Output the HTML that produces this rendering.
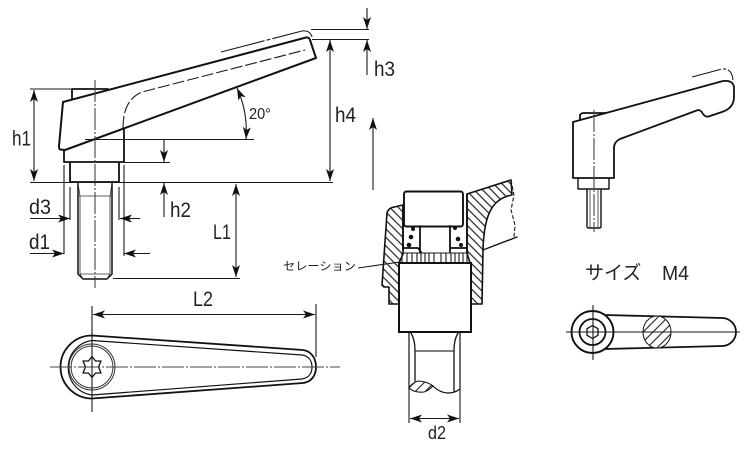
<!DOCTYPE html>
<html><head><meta charset="utf-8"><style>
html,body{margin:0;padding:0;background:#fff;width:750px;height:450px;overflow:hidden}
svg{display:block}
text{font-family:"Liberation Sans","Noto Sans CJK JP",sans-serif;fill:#222}
.o{fill:none;stroke:#111;stroke-width:1.8;stroke-linejoin:round;stroke-linecap:round}
.m{fill:none;stroke:#1a1a1a;stroke-width:1.1}
.t{fill:none;stroke:#333;stroke-width:.8}
.c{fill:none;stroke:#444;stroke-width:1.1;stroke-dasharray:22 2 2 2}
</style></head><body>
<svg width="750" height="450" viewBox="0 0 750 450" xmlns="http://www.w3.org/2000/svg">
<defs>
<pattern id="h" width="6" height="6" patternUnits="userSpaceOnUse" patternTransform="rotate(45)"><rect width="6" height="6" fill="#fff"/><line x1="0" y1="3" x2="6" y2="3" stroke="#222" stroke-width="1.200"/></pattern>
<pattern id="h2" width="7" height="7" patternUnits="userSpaceOnUse" patternTransform="rotate(-45)"><rect width="7" height="7" fill="#fff"/><line x1="0" y1="3.500" x2="7" y2="3.500" stroke="#222" stroke-width="1.100"/></pattern>
<marker id="a" viewBox="0 0 12 8" refX="12" refY="4" markerWidth="12" markerHeight="8" markerUnits="userSpaceOnUse" orient="auto-start-reverse"><path d="M0 0L12 4L0 8L3 4Z" fill="#111"/></marker>
</defs>

<!-- side view -->
<path class="o" d="M72 100V89H108"/>
<path class="o" d="M64 150V162H124V128"/>
<path class="o" d="M70 163V182H119V163"/>
<path class="o" d="M78 183V274L83 279H107L112 274V183" style="stroke-width:1.5"/>
<path class="t" d="M78 196H112M78 183L80 196M112 183L110 196M80 274L83 279M110 274L107 279M80 274H110M80 196V274M110 196V274"/>
<path class="o" style="fill:#fff;stroke-width:2" d="M63 102L306 37.500Q309 37 310 40L316 58L65 150L60 149.500Q59 149 59 146Z"/>
<path class="m" stroke-dasharray="12 3" d="M123 128C123 108 130 97 142 92L305 50"/>
<path class="m" stroke-dasharray="45 2 4 2" d="M221 52L302 31Q310 30 312 37"/>
<path class="c" d="M95 80V288"/>
<!-- dims -->
<path class="m" d="M30 89H72M30 182.500H333M85 139.500H254M124 162.500H170M113 278.500H240M312 39.500H369M311 29.500H369"/>
<path class="m" marker-start="url(#a)" marker-end="url(#a)" d="M34 90V181"/>
<path class="m" marker-start="url(#a)" marker-end="url(#a)" d="M330 40V181"/>
<path class="m" marker-start="url(#a)" marker-end="url(#a)" d="M236 184V277"/>
<path class="m" marker-end="url(#a)" d="M164 139V162"/>
<path class="m" marker-end="url(#a)" d="M164 217V183"/>
<path class="m" marker-end="url(#a)" d="M367 8V29"/>
<path class="m" marker-end="url(#a)" d="M367 75V40"/>
<path class="m" marker-start="url(#a)" marker-end="url(#a)" d="M237 88Q248 112 246 139"/>
<path class="m" marker-end="url(#a)" d="M373 190V118"/>
<path class="m" d="M64 165V254M70 187V220M119 187V220M124 165V256"/>
<path class="m" marker-end="url(#a)" d="M30 218.500H70"/>
<path class="m" marker-end="url(#a)" d="M140 218.500H120"/>
<path class="m" marker-end="url(#a)" d="M30 253.500H64"/>
<path class="m" marker-end="url(#a)" d="M150 253.500H124"/>
<g font-size="21.500">
<text x="12" y="145.500" textLength="19" lengthAdjust="spacingAndGlyphs">h1</text>
<text x="29" y="214" textLength="22" lengthAdjust="spacingAndGlyphs">d3</text>
<text x="29" y="249" textLength="21" lengthAdjust="spacingAndGlyphs">d1</text>
<text x="170" y="217" textLength="21" lengthAdjust="spacingAndGlyphs">h2</text>
<text x="213" y="239" textLength="18" lengthAdjust="spacingAndGlyphs">L1</text>
<text x="335" y="122" textLength="21" lengthAdjust="spacingAndGlyphs">h4</text>
<text x="374" y="76" textLength="21" lengthAdjust="spacingAndGlyphs">h3</text>
<text x="193" y="306" textLength="20" lengthAdjust="spacingAndGlyphs">L2</text>
<text x="428" y="439" font-size="18.500" textLength="18" lengthAdjust="spacingAndGlyphs">d2</text>
</g>
<text x="249" y="119" font-size="16" textLength="22" lengthAdjust="spacingAndGlyphs">20°</text>

<!-- bottom-left plan -->
<path class="o" d="M92 335.500L303 350C311 351 316 358 316 367C316 376 311 382 303 383L92 398.500A31.500 31.500 0 0 1 92 335.500Z"/>
<path class="o" style="stroke-width:1.2" d="M92 340.500L302 355C308 356 312 360 312 367C312 374 308 378 302 379L92 395A27.500 27.500 0 0 1 92 340.500Z"/>
<circle cx="92" cy="367" r="23" class="t" style="stroke-width:1"/>
<circle cx="92" cy="367" r="21" class="t" style="stroke-width:1"/>
<path class="o" style="stroke-width:1.3" d="M92 356.500L95.500 361L101 361L98.500 367L101 373L95.500 373L92 377.500L88.500 373L83 373L85.500 367L83 361L88.500 361Z"/>
<path class="c" d="M50 367H340"/>
<path class="m" d="M92 306V412M316 304V357"/>
<path class="m" marker-start="url(#a)" marker-end="url(#a)" d="M93 314.500H315"/>

<!-- section -->
<path d="M403 205L392 207.500Q388 209 387 213L382 285L384 287L389 287L389 304L399 304L399 263L403 254Z" fill="url(#h)" stroke="#111" stroke-width="1.6" stroke-linejoin="round"/>
<path d="M467 194L511 180L512 195C495 198 484 210 483 250L482 304L470 304L470 263L467 253Z" fill="url(#h)" stroke="#111" stroke-width="1.6" stroke-linejoin="round"/>
<path class="o" style="stroke-width:1.4" d="M483 250L517 237"/>
<path class="m" stroke-dasharray="4 2" d="M511 180L514 195L511 210L515 225L514 237"/>
<rect x="404" y="191.500" width="59" height="35" rx="2.500" fill="#fff" stroke="#111" stroke-width="1.9"/>
<path class="o" d="M403 205V250M467 194V253M420 226V252M450 226V252M403 248H418L421 252M450 248H467"/>
<g fill="#111"><circle cx="413" cy="229" r="2"/><circle cx="411" cy="237" r="2.300"/><circle cx="409" cy="245" r="2.300"/><circle cx="455" cy="228" r="2"/><circle cx="458" cy="239" r="2.300"/><circle cx="461" cy="245" r="2"/></g>
<path class="m" stroke-width=".9" d="M401 253H469M402 253V263M407 253V263M412 253V263M417 253V263M421 253V263M425 253V263M429 253V263M434 253V263M441 253V263M446 253V263M451 253V263M455 253V263M459 253V263M463 253V263M467 253V263"/>
<rect x="399" y="263" width="72" height="69" fill="#fff" stroke="#111" stroke-width="2"/>
<path class="o" style="stroke-width:1.3" d="M411 333Q415 340 415 350V381M458 333Q454 340 454 350V391"/>
<path class="t" style="stroke-width:1.2" d="M415 351H454"/>
<path class="o" style="stroke-width:1.2" d="M409 333V389M460 333V389"/>
<path d="M409 388Q412 383 418 381Q426 381 433 386Q428 391 424 392Q414 393 409 388Z" fill="url(#h2)" stroke="#111" stroke-width="1.100"/>
<path class="o" style="stroke-width:1.2" d="M433 386Q440 393 448 393Q455 393 460 389"/>
<path class="m" d="M409 389V423M460 389V423M358 268L400 262"/>
<path class="m" marker-start="url(#a)" marker-end="url(#a)" d="M410 418.500H459"/>
<text x="283" y="270" font-size="11.500" textLength="73" lengthAdjust="spacingAndGlyphs">セレーション</text>

<!-- small side view -->
<path class="o" d="M580 120V116Q580 113 584 113H606"/>
<path class="o" d="M573 122V178H614V148Q614 142 620 139L698 110Q701 110 703 114Q706 118 710 116L722 112Q734 108 734 97V87Q733 80 723 81Z"/>
<path class="o" style="stroke-width:1.4" d="M578 179V189H609V179"/>
<path class="o" style="stroke-width:1.4" d="M587 190V227L588 228H600L601 227V190"/>
<path class="t" d="M590 190V228M598 190V228"/>
<path class="m" stroke-dasharray="30 2 3 2" d="M692 77L722 69Q732 68 733 80"/>
<path class="c" d="M594 110V232"/>

<!-- small plan -->
<path class="o" d="M605 315L722 318A14 14 0 0 1 722 346L605 349"/>
<path d="M643 332A14 16 0 0 1 671 332A14 16 0 0 1 657 348A14 16 0 0 1 643 332Z" fill="url(#h2)" stroke="#111" stroke-width="1"/>
<circle cx="592.500" cy="332" r="21" fill="#fff" stroke="#111" stroke-width="1.900"/>
<circle cx="592.500" cy="332" r="13" fill="none" stroke="#111" stroke-width="1.800"/>
<path class="o" style="stroke-width:1.300" d="M592.500 325.500L598 328.700V335.300L592.500 338.500L587 335.300V328.700Z"/>
<path class="m" d="M566 332H740M593 305V360"/>
<text x="585" y="279" font-size="19">サイズ</text>
<text x="662" y="280" font-size="20" textLength="27" lengthAdjust="spacingAndGlyphs">M4</text>
</svg>
</body></html>
